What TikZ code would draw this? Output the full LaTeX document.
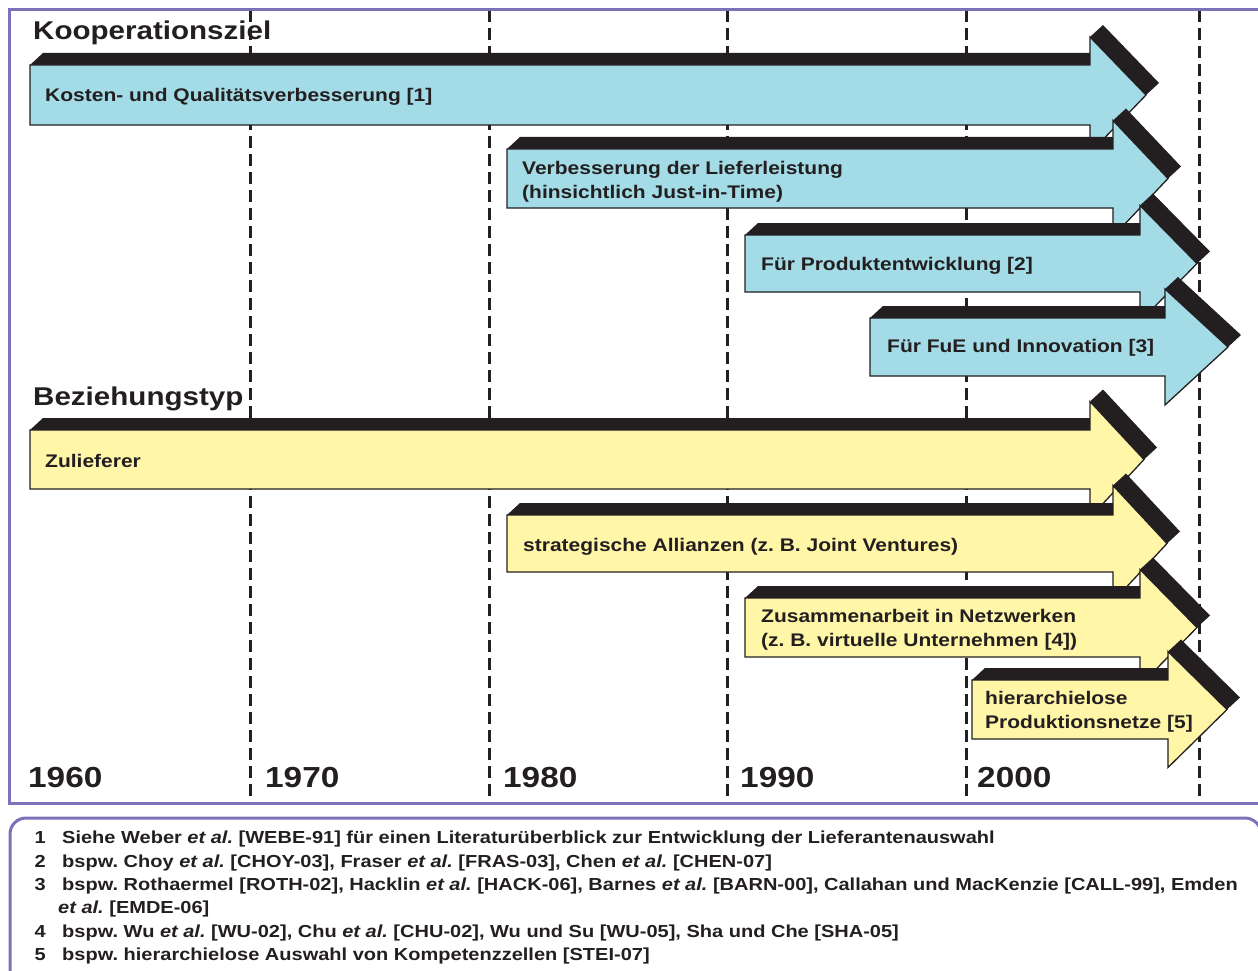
\documentclass[tikz,border=0pt]{standalone}
\usepackage{fontspec}
\setmainfont{Liberation Sans}[FakeStretch=1.15]
\frenchspacing
\definecolor{zielblue}{HTML}{A3DBE6}
\definecolor{typyellow}{HTML}{FFF6A8}
\definecolor{bandblack}{HTML}{231F20}
\definecolor{framepurple}{HTML}{7B73B9}
\newcommand{\etal}{\textit{et al.}}
% timeline arrow with extruded top face:
% #1 fill colour, #2 left x, #3 top y, #4 bottom y, #5 head start x, #6 tip x
\newcommand{\bandarrow}[6]{%
  \pgfmathsetmacro\arrmid{(#3+#4)/2}%
  \pgfmathsetmacro\arrhtop{\arrmid-58}%
  \pgfmathsetmacro\arrhbot{\arrmid+58}%
  \fill[bandblack] (#2,#3) -- ++(13,-12) -- (#5,#3-12) -- (#5,\arrhtop)
     -- ++(13,-12) -- (#6+13,\arrmid-12) -- (#6,\arrmid) -- (#2,\arrmid) -- cycle;
  \draw[arrowedge, fill=#1] (#2,#3) -- (#5,#3) -- (#5,\arrhtop) -- (#6,\arrmid)
     -- (#5,\arrhbot) -- (#5,#4) -- (#2,#4) -- cycle;
}
\begin{document}
\begin{tikzpicture}[x=1pt,y=-1pt,
  arrowedge/.style={draw=bandblack, line width=1.3pt, line join=miter},
  frameline/.style={draw=framepurple, line width=3pt},
  yearline/.style={draw=bandblack, line width=3pt, dash pattern=on 12pt off 6pt},
  lbl/.style={anchor=base west, inner sep=0pt, text=bandblack,
    font=\fontsize{18.25}{24}\selectfont\bfseries},
  heading/.style={anchor=base west, inner sep=0pt, text=bandblack,
    font=\fontsize{25.7}{30}\selectfont\bfseries},
  yearlbl/.style={anchor=base west, inner sep=0pt, text=bandblack,
    font=\fontsize{29}{34}\selectfont\bfseries},
  notenum/.style={anchor=base east, inner sep=0pt, text=bandblack,
    font=\fontsize{17.4}{21}\selectfont\bfseries},
  notetxt/.style={anchor=base west, inner sep=0pt, text=bandblack,
    font=\fontsize{17.4}{21}\selectfont\bfseries}]
\useasboundingbox (0,0) rectangle (1258,971);

% decade separators
\foreach \dx [count=\di] in {250,489,727,966,1199} {
  \coordinate (dtop\di) at (\dx,10);
  \coordinate (dbot\di) at (\dx,803);
  \draw[yearline] (dtop\di) -- (dbot\di);
}

% outer frame (open to the right)
\coordinate (frA) at (1275,10);
\coordinate (frB) at (9.5,10);
\coordinate (frC) at (9.5,803);
\coordinate (frD) at (1275,803);
\draw[frameline] (frA) -- (frB) -- (frC) -- (frD);

% footnote panel
\draw[frameline, rounded corners=16pt] (10,818) rectangle (1261,1000);

% Kooperationsziel
\bandarrow{zielblue}{30}{65}{125}{1090}{1146}
\bandarrow{zielblue}{507}{149}{208}{1113}{1168}
\bandarrow{zielblue}{745}{235}{292}{1140}{1197}
\bandarrow{zielblue}{870}{318}{376}{1165}{1228}
% Beziehungstyp
\bandarrow{typyellow}{30}{430}{489}{1090}{1144}
\bandarrow{typyellow}{507}{515}{572}{1113}{1167}
\bandarrow{typyellow}{745}{598}{657}{1140}{1197}
\bandarrow{typyellow}{972}{680}{739}{1168}{1227}

% headings
\node[heading] (hz) at (33,40) {Kooperationsziel};
\node[heading] (hb) at (33,405) {Beziehungstyp};

% arrow labels
\node[lbl] (z1) at (45,102) {Kosten- und Qualitätsverbesserung [1]};
\node[lbl] (z2a) at (522,174) {Verbesserung der Lieferleistung};
\node[lbl] (z2b) at (522,198) {(hinsichtlich Just-in-Time)};
\node[lbl] (z3) at (761,270) {Für Produktentwicklung [2]};
\node[lbl] (z4) at (887,352) {Für FuE und Innovation [3]};
\node[lbl] (b1) at (45,467) {Zulieferer};
\node[lbl] (b2) at (523,551) {strategische Allianzen (z. B. Joint Ventures)};
\node[lbl] (b3a) at (761,622) {Zusammenarbeit in Netzwerken};
\node[lbl] (b3b) at (761,646) {(z. B. virtuelle Unternehmen [4])};
\node[lbl] (b4a) at (985,704) {hierarchielose};
\node[lbl] (b4b) at (985,728) {Produktionsnetze [5]};

% decades
\node[yearlbl] (y60) at (28,787) {1960};
\node[yearlbl] (y70) at (265,787) {1970};
\node[yearlbl] (y80) at (503,787) {1980};
\node[yearlbl] (y90) at (740,787) {1990};
\node[yearlbl] (y00) at (977,787) {2000};

% footnotes
\node[notenum] (n1) at (46,843) {1};
\node[notetxt] (f1) at (62,843) {Siehe Weber \etal{} [WEBE-91] für einen Literaturüberblick zur Entwicklung der Lieferantenauswahl};
\node[notenum] (n2) at (46,867) {2};
\node[notetxt] (f2) at (62,867) {bspw. Choy \etal{} [CHOY-03], Fraser \etal{} [FRAS-03], Chen \etal{} [CHEN-07]};
\node[notenum] (n3) at (46,890) {3};
\node[notetxt] (f3a) at (62,890) {bspw. Rothaermel [ROTH-02], Hacklin \etal{} [HACK-06], Barnes \etal{} [BARN-00], Callahan und MacKenzie [CALL-99], Emden};
\node[notetxt] (f3b) at (58,913) {\etal{} [EMDE-06]};
\node[notenum] (n4) at (46,937) {4};
\node[notetxt] (f4) at (62,937) {bspw. Wu \etal{} [WU-02], Chu \etal{} [CHU-02], Wu und Su [WU-05], Sha und Che [SHA-05]};
\node[notenum] (n5) at (46,960) {5};
\node[notetxt] (f5) at (62,960) {bspw. hierarchielose Auswahl von Kompetenzzellen [STEI-07]};
\end{tikzpicture}
\end{document}
